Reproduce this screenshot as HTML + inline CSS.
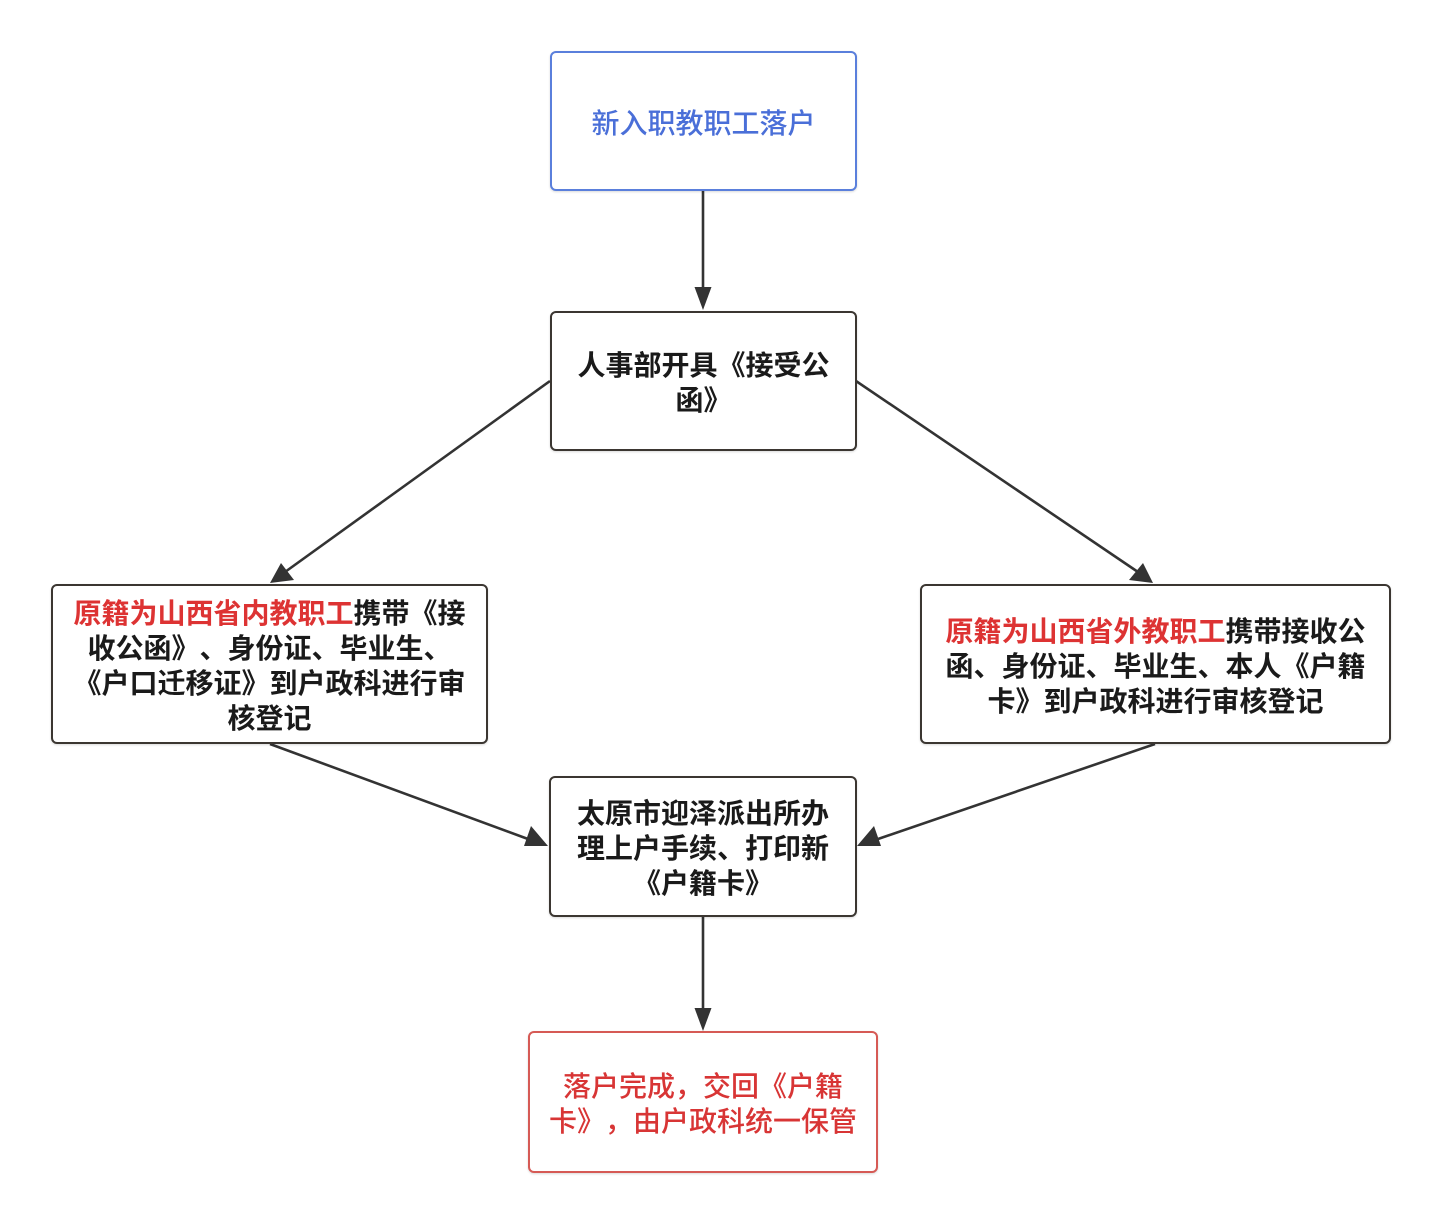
<!DOCTYPE html>
<html>
<head>
<meta charset="utf-8">
<style>
  html, body { margin:0; padding:0; background:#ffffff; }
  body { width:1440px; height:1222px; position:relative; overflow:hidden;
         font-family: "Liberation Sans", "Noto Sans CJK SC", "WenQuanYi Zen Hei", sans-serif; }
  .box { position:absolute; box-sizing:border-box; border:2px solid #3b3631; border-radius:6px;
         background:#fff; display:flex; align-items:center; justify-content:center; text-align:center;
         font-size:28px; line-height:35px; font-weight:bold; color:#1a1a1a; white-space:nowrap;
         box-shadow: 0 1px 2px rgba(0,0,0,0.15);
         text-spacing-trim: space-all; font-feature-settings: "halt" 0, "chws" 0, "palt" 0; }
  .blue { border-color:#5a7fdc; color:#4a6fd8; font-weight:500; }
  .redbox { border-color:#d65a55; color:#d83535; font-weight:500; }
  .r { color:#dd3333; }
  .t { padding-top:4px; }
  svg { position:absolute; left:0; top:0; }
</style>
</head>
<body>
<svg width="1440" height="1222" viewBox="0 0 1440 1222">
  <g stroke="#333" stroke-width="2.6" fill="none">
    <line x1="703" y1="191" x2="703" y2="290"/>
    <line x1="550" y1="381" x2="285" y2="572"/>
    <line x1="856" y1="381" x2="1138" y2="572"/>
    <line x1="270" y1="744" x2="528" y2="839"/>
    <line x1="1155" y1="744" x2="878" y2="839"/>
    <line x1="703" y1="917" x2="703" y2="1010"/>
  </g>
  <g fill="#333">
    <polygon points="703,310 694.5,287 711.5,287"/>
    <polygon points="270,583 281,563 294,580"/>
    <polygon points="1153,583 1129,580 1143,563"/>
    <polygon points="548,846 524,846 531,826"/>
    <polygon points="857,846 874,826 881,846"/>
    <polygon points="703,1031 694.5,1008 711.5,1008"/>
  </g>
</svg>

<div class="box blue" style="left:550px; top:51px; width:307px; height:140px;">
  <div class="t">新入职教职工落户</div>
</div>

<div class="box" style="left:550px; top:311px; width:307px; height:140px;">
  <div class="t">人事部开具《接受公<br>函》</div>
</div>

<div class="box" style="left:51px; top:584px; width:437px; height:160px;">
  <div class="t"><span class="r">原籍为山西省内教职工</span>携带《接<br>收公函》、身份证、毕业生、<br>《户口迁移证》到户政科进行审<br>核登记</div>
</div>

<div class="box" style="left:920px; top:584px; width:471px; height:160px;">
  <div class="t"><span class="r">原籍为山西省外教职工</span>携带接收公<br>函、身份证、毕业生、本人《户籍<br>卡》到户政科进行审核登记</div>
</div>

<div class="box" style="left:549px; top:776px; width:308px; height:141px;">
  <div class="t">太原市迎泽派出所办<br>理上户手续、打印新<br>《户籍卡》</div>
</div>

<div class="box redbox" style="left:528px; top:1031px; width:350px; height:142px;">
  <div class="t">落户完成，交回《户籍<br>卡》，由户政科统一保管</div>
</div>
</body>
</html>
